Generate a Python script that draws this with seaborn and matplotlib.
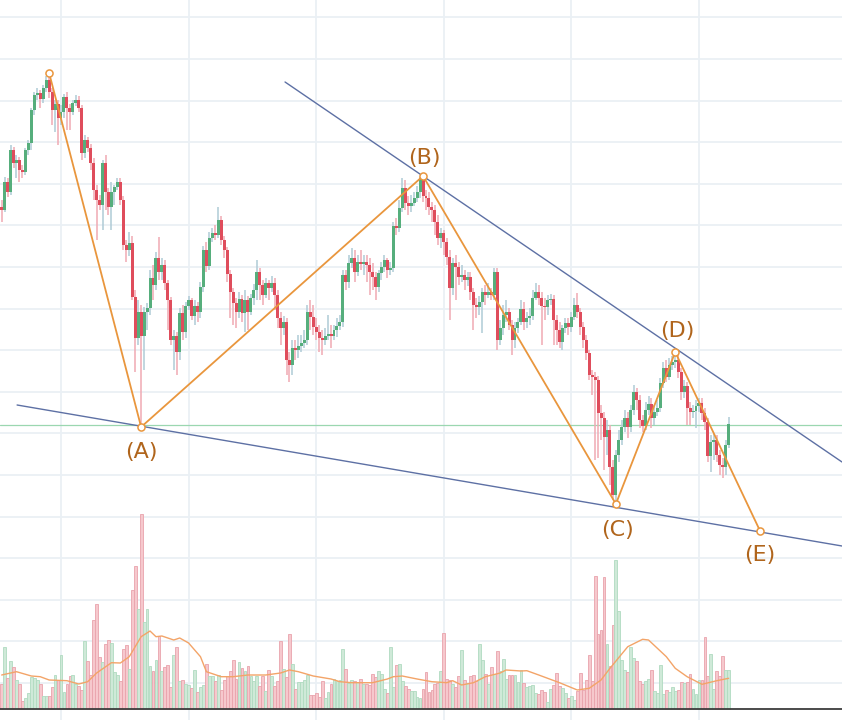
import numpy as np
import pandas as pd
import matplotlib
matplotlib.use("Agg")
import matplotlib.pyplot as plt
import seaborn as sns

# ---------------- data ----------------
open_ = [593,590,618,608,650,637,640,630,628,650, 657,690,705,707,701,712,720,708,690,696,
         682,688,703,692,688,697,700,692,647,660, 652,637,610,600,595,637,608,593,608,613,
         618,600,555,550,557,503,462,488,464,488, 492,522,515,542,528,535,517,500,460,464,
         448,487,468,494,500,484,494,488,513,550, 534,562,567,565,580,560,550,526,508,497,
         488,501,487,500,488,502,510,528,515,505, 517,512,517,505,482,472,478,440,435,452,
         450,454,457,460,488,483,473,468,462,460, 464,466,464,470,474,478,525,518,537,542,
         528,538,536,538,535,528,523,513,527,533, 540,530,532,574,572,592,612,597,594,597,
         602,608,622,604,602,593,590,578,562,567, 558,543,512,537,533,523,525,520,523,508,
         495,493,498,508,505,508,505,528,460,472, 485,488,475,460,472,478,491,478,482,484,
         502,508,502,494,493,500,501,480,470,458, 472,477,473,483,495,488,473,460,447,425,
         423,420,387,382,363,370,333,305,345,360, 373,382,373,390,408,400,380,374,390,396,
         382,388,392,417,432,423,435,438,440,428, 408,414,392,388,389,394,397,387,378,344,
         358,360,345,335,333,355]
close = [590,618,608,650,637,640,630,628,650,657, 690,705,707,701,712,720,708,690,696,682,
         688,703,692,688,697,700,692,647,660,652, 637,610,600,595,637,608,593,608,613,618,
         600,555,550,557,503,462,488,464,488,492, 522,515,542,528,535,517,500,460,464,448,
         487,468,494,500,484,494,488,513,550,534, 562,567,565,580,560,550,526,508,497,488,
         501,487,500,488,502,510,528,515,505,517, 512,517,505,482,472,478,440,435,452,450,
         454,457,460,488,483,473,468,462,460,464, 466,464,470,474,478,525,518,537,542,528,
         538,536,538,535,528,523,513,527,533,540, 530,532,574,572,592,612,597,594,597,602,
         608,622,604,602,593,590,578,562,567,558, 543,512,537,533,523,525,520,523,508,495,
         493,498,508,505,508,505,528,460,472,485, 488,475,460,472,478,491,478,482,484,502,
         508,502,494,493,500,501,480,470,458,472, 477,473,483,495,488,473,460,447,425,423,
         420,387,382,363,370,333,305,345,360,373, 382,373,390,408,400,380,374,390,396,382,
         388,392,417,432,423,435,438,440,428,408, 414,392,388,389,394,397,387,378,344,358,
         360,345,335,333,355,376]
high = [600,623,622,655,653,645,643,635,652,660, 692,708,712,710,715,724,727,712,700,700,
        695,706,708,696,700,705,704,695,665,663, 656,642,615,605,640,645,612,618,615,622,
        622,604,560,568,564,510,500,495,493,497, 530,535,548,563,542,540,520,503,470,468,
        492,495,498,504,502,500,498,518,554,558, 568,572,575,593,584,564,553,530,512,502,
        508,505,510,504,506,516,540,532,520,522, 520,524,522,510,488,484,482,448,460,460,
        465,465,470,495,500,495,482,475,470,472, 485,475,475,482,485,530,530,545,552,550,
        545,550,545,545,542,537,528,530,538,545, 542,538,578,582,600,622,620,604,605,608,
        614,623,624,610,608,598,595,585,572,570, 562,550,542,545,538,535,530,528,528,512,
        502,504,512,515,517,512,532,532,480,495, 500,492,480,478,482,500,498,488,492,510,
        517,515,508,502,505,506,505,485,478,475, 482,482,488,502,507,492,478,465,450,430,
        428,424,395,388,380,375,340,350,370,380, 390,388,395,415,412,405,385,398,404,402,
        395,400,422,438,440,442,444,448,445,432, 420,418,398,395,400,402,402,392,382,365,
        366,365,350,342,360,383]
low = [578,588,603,605,632,622,618,622,625,645, 650,685,700,692,697,708,702,675,668,655,
       675,682,670,670,685,694,688,640,642,648, 630,600,560,590,570,590,585,570,595,610,
       595,550,538,544,500,428,455,373,430,470, 485,500,510,520,520,510,470,455,430,425,
       440,460,462,490,480,475,478,482,508,528, 530,558,560,562,555,542,518,482,475,472,
       482,478,468,470,485,495,500,500,495,502, 500,508,490,472,455,465,425,418,425,440,
       442,448,452,455,470,465,460,448,445,455, 460,452,460,463,470,473,510,512,532,518,
       524,530,525,518,505,510,500,508,520,528, 522,525,528,565,568,588,590,585,588,594,
       598,602,598,590,585,578,565,555,552,545, 535,480,505,500,515,518,510,514,500,470,
       482,485,467,495,502,500,500,450,455,465, 478,470,445,452,467,475,470,472,475,480,
       500,495,455,480,485,495,455,455,452,450, 467,465,468,480,482,465,452,440,420,405,
       340,342,360,330,345,315,300,296,338,355, 368,362,368,385,390,372,368,370,385,372,
       375,384,388,412,418,420,430,432,422,400, 402,375,375,382,372,388,380,370,338,328,
       340,338,325,322,325,352]
volume = [25,62,31,48,42,29,25,8,11,16, 32,31,29,25,13,13,13,22,34,29,
          54,17,25,33,34,25,23,19,68,48, 34,89,105,52,47,65,69,66,37,34,
          28,60,64,40,119,143,100,195,87,100, 43,38,49,73,38,42,44,22,54,62,
          28,29,25,24,21,39,17,22,24,45, 33,33,28,34,19,29,33,38,49,30,
          47,41,38,43,33,28,33,23,33,18, 39,33,23,28,
          68,40,32,75,45,20,27,27,29, 34,14,14,16,12,28,11,17,25,30,
          28,29,60,40,26,29,28,27,30, 25,25,24,35,32,38,35,20,16,62,
          22,44,45,28,23,20,18,18, 12,11,20,37,17,19,25,26,38,76,
          30,29,25,22,33,59,29,26,33, 34,28,65,49,35,25,42,35,58,38,
          50,30,34,34,34,27,39,26,22, 23,24,16,15,19,17,7,20,24,36,
          23,21,16,11,13,9,18,36,19,29, 54,28,133,75,79,132,65,43,84,149,
          98,49,39,37,62,51,48,28,25, 28,30,39,18,16,44,15,19,17,22,
          18,19,27,26,27,35,20,15, 29,29,72,33,55,20,38,33,53,39,39]
vol_ma_idx = [0,5,10,13,16,22,26,29,32,37, 40,43,47,50,52,54,58,60,63,67,
              69,74,78,83,89,94,97,100,105,111, 114,118,125,130,132,135,140,145,150,152,
              155,159,163,168,170,175,177,181,188,194, 198,202,205,211,216,218,224,227,231,236,
              241,245]
vol_ma = [34,37.3,33,32.3,29,28.3,25,27.3,36,46.3, 46,52.3,72.3,78,72.3,73,69,71,66,52.3,
          37.3,32.3,32.3,34,34,36,39,37.3,33,30, 27.3,26.3,26.3,30,32.3,33,30,27.3,26.3,28.3,
          24,26.3,32.3,36,39,38,38.3,34,26.3,19, 20.7,29,40.7,62.3,69.7,69,52.3,40.7,32.3,24.7,
          28.3,30.7]

pattern_idx = [16, 47, 142, 207, 227, 255.6]
pattern_price = [727, 373, 624, 296, 448, 269]
label_text = ["(A)", "(B)", "(C)", "(D)", "(E)"]
label_idx = [47.0, 142.3, 207.4, 227.6, 255.6]
label_price = [348, 642, 270, 469, 245]
upper_idx = [95.5, 283.2]
upper_price = [718, 338]
lower_idx = [5.2, 283.2]
lower_price = [395, 254]
last_price = 375.5

# ---------------- styling ----------------
sns.set_theme(style="whitegrid")
plt.rcParams['font.family'] = ['DejaVu Sans']

GREEN = '#56ae7c'
RED = '#df4d5c'
GREEN_WICK = '#afcbd6'
RED_WICK = '#f0aab3'
VOL_G, VOL_G_E = '#cfe9d8', '#b0dbc0'
VOL_R, VOL_R_E = '#f6c8cd', '#e9a3ac'
ORANGE = '#e9963d'
LABEL = '#b0651c'
BLUE = '#5d70a4'
GRID = '#eaf0f5'

df = pd.DataFrame({"open": open_, "high": high, "low": low, "close": close, "volume": volume})
df["idx"] = np.arange(len(df))
df["up"] = df["close"] >= df["open"]

fig = plt.figure(figsize=(8.42, 7.2), dpi=100)
fig.patch.set_facecolor('white')
ax = fig.add_axes([0, 0, 1, 1])
ax.set_facecolor('white')
ax.set_xlim(-0.56, 283.2)
ax.set_ylim(80, 800)
ax.set_xticks([20, 63, 106, 149, 192, 235])
ax.set_yticks(np.arange(117, 800, 41.6))
ax.grid(True, color=GRID, linewidth=1.3)
ax.set_axisbelow(True)
ax.tick_params(length=0, labelleft=False, labelbottom=False)
for s in ax.spines.values():
    s.set_visible(False)

# candles
ax.vlines(df["idx"], df["low"], df["high"],
          colors=np.where(df["up"], GREEN_WICK, RED_WICK).tolist(), linewidth=1.1, zorder=2)
body_bottom = np.minimum(df["open"], df["close"])
body_h = np.maximum(np.abs(df["close"] - df["open"]), 1.2)
ax.bar(df["idx"], body_h, bottom=body_bottom, width=1.0,
       color=np.where(df["up"], GREEN, RED), linewidth=0, zorder=3)

# last price line
ax.axhline(last_price, color='#9bd7b0', linewidth=0.9, zorder=1.5)

# trend lines
ax.plot(upper_idx, upper_price, color=BLUE, linewidth=1.0, zorder=4)
ax.plot(lower_idx, lower_price, color=BLUE, linewidth=1.0, zorder=4)

# pattern
ax.plot(pattern_idx, pattern_price, color=ORANGE, linewidth=1.3, zorder=5)
ax.scatter(pattern_idx, pattern_price, s=26, facecolor='white', edgecolor=ORANGE,
           linewidth=1.1, zorder=6)
for t, xi, yi in zip(label_text, label_idx, label_price):
    ax.text(xi, yi, t, ha='center', va='center', fontsize=16, color=LABEL, zorder=7)

# volume on a twin axis (transparent, above the grid)
axv = ax.twinx()
axv.set_ylim(-11, 709)
axv.grid(False)
axv.tick_params(length=0, labelright=False)
for s in axv.spines.values():
    s.set_visible(False)
axv.patch.set_visible(False)
axv.bar(df["idx"], df["volume"], width=0.95,
        color=np.where(df["up"], VOL_G, VOL_R),
        edgecolor=np.where(df["up"], VOL_G_E, VOL_R_E), linewidth=0.6, zorder=2)
sns.lineplot(x=vol_ma_idx, y=vol_ma, ax=axv, color='#f3a468', linewidth=1.0, zorder=3)
axv.axhline(0, color='#3d3d3d', linewidth=1.3, zorder=4)
axv.set_xlabel('')
axv.set_ylabel('')

fig.savefig("out.png", dpi=100)
